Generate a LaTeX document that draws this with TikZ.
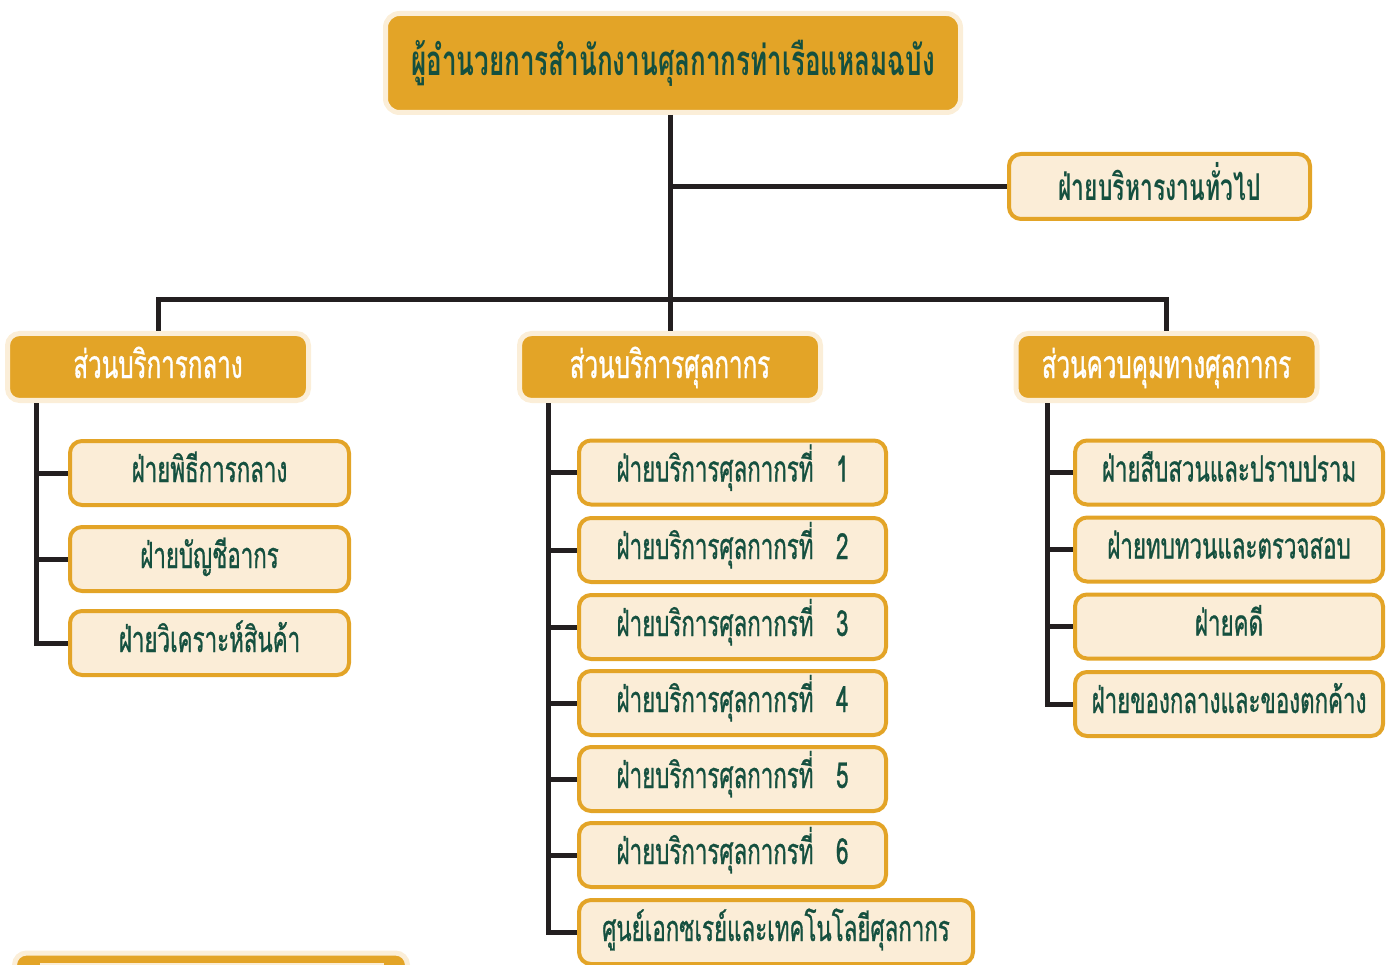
\documentclass[tikz,border=0pt]{standalone}
\usepackage{fontspec}
\newfontfamily\thai[Script=Thai,FakeStretch=0.62]{Loma}
\newfontfamily\thaim[Script=Thai,FakeStretch=0.62,FakeBold=0.8]{Loma}
\definecolor{orng}{HTML}{E3A427}
\definecolor{glow}{HTML}{FBEED8}
\definecolor{cream}{HTML}{FBEDD7}
\definecolor{dgreen}{HTML}{15503F}
\definecolor{lin}{HTML}{231F20}
\tikzset{
  topbox/.style={draw=glow, line width=5pt, fill=orng, rounded corners=14pt, inner sep=0pt,
    minimum width=575pt, minimum height=99pt, text=dgreen, font=\thai\bfseries\fontsize{42}{48}\selectfont,
    text height=26pt, text depth=0pt},
  secbox/.style={draw=glow, line width=5pt, fill=orng, rounded corners=12pt, inner sep=0pt,
    minimum width=301pt, minimum height=67pt, text=white, font=\thaim\fontsize{39}{44}\selectfont,
    text height=22pt, text depth=0pt},
  unitbox/.style={draw=orng, line width=4pt, fill=cream, rounded corners=12pt, inner sep=0pt,
    minimum height=64pt, text=dgreen, font=\thaim\fontsize{36}{40}\selectfont,
    text height=18pt, text depth=0pt},
  genbox/.style={draw=orng, line width=4pt, fill=cream, rounded corners=12pt, inner sep=0pt,
    minimum width=301pt, minimum height=65pt, text=dgreen, font=\thai\bfseries\fontsize{37}{42}\selectfont,
    text height=29pt, text depth=0pt},
  plainbox/.style={draw=glow, line width=5pt, fill=orng, rounded corners=12pt, inner sep=0pt},
  conn/.style={draw=lin, line width=5pt},
}
\begin{document}
\begin{tikzpicture}[x=1pt,y=-1pt]
\useasboundingbox (0,0) rectangle (1392,965);
\clip (0,0) rectangle (1392,965);
% top
\node[topbox] (top) at (673,63) {ผู้อำนวยการสำนักงานศุลกากรท่าเรือแหลมฉบัง};
\node[genbox] (gen) at (1159.5,186.5) {ฝ่ายบริหารงานทั่วไป};
% sections
\node[secbox] (secL) at (158,367) {ส่วนบริการกลาง};
\node[secbox] (secM) at (670,367) {ส่วนบริการศุลกากร};
\node[secbox] (secR) at (1166.5,367) {ส่วนควบคุมทางศุลกากร};
% left units
\node[unitbox, minimum width=279pt] (l1) at (209.5,473) {ฝ่ายพิธีการกลาง};
\node[unitbox, minimum width=279pt] (l2) at (209.5,559) {ฝ่ายบัญชีอากร};
\node[unitbox, minimum width=279pt] (l3) at (209.5,643) {ฝ่ายวิเคราะห์สินค้า};
% middle units
\node[unitbox, minimum width=307pt] (m1) at (732.5,472.5) {ฝ่ายบริการศุลกากรที่\ \ \ 1};
\node[unitbox, minimum width=307pt] (m2) at (732.5,550) {ฝ่ายบริการศุลกากรที่\ \ \ 2};
\node[unitbox, minimum width=307pt] (m3) at (732.5,627) {ฝ่ายบริการศุลกากรที่\ \ \ 3};
\node[unitbox, minimum width=307pt] (m4) at (732.5,703) {ฝ่ายบริการศุลกากรที่\ \ \ 4};
\node[unitbox, minimum width=307pt] (m5) at (732.5,779) {ฝ่ายบริการศุลกากรที่\ \ \ 5};
\node[unitbox, minimum width=307pt] (m6) at (732.5,855) {ฝ่ายบริการศุลกากรที่\ \ \ 6};
\node[unitbox, minimum width=394pt] (m7) at (776,932) {ศูนย์เอกซเรย์และเทคโนโลยีศุลกากร};
% right units
\node[unitbox, minimum width=308pt] (r1) at (1229,472.5) {ฝ่ายสืบสวนและปราบปราม};
\node[unitbox, minimum width=308pt] (r2) at (1229,549.5) {ฝ่ายทบทวนและตรวจสอบ};
\node[unitbox, minimum width=308pt] (r3) at (1229,626.5) {ฝ่ายคดี};
\node[unitbox, minimum width=308pt] (r4) at (1229,704) {ฝ่ายของกลางและของตกค้าง};
% bottom partial box
\node[plainbox, minimum width=393pt, minimum height=70pt, anchor=north] (bot) at (211,950.5) {};
\fill[cream] (40,963) rectangle (384,1000);
% connectors
\coordinate (bus) at (670,300);
\draw[conn] (top.south -| secM.north) -- (secM.north);
\draw[conn] (gen.west -| secM.north) -- (gen.west);
\draw[conn] (secL.north) -- (secL.north |- bus) -- (secR.north |- bus) -- (secR.north);
\coordinate (lx) at (36,0);
\coordinate (mx) at (548,0);
\coordinate (rx) at (1047,0);
\draw[conn] (secL.south -| lx) |- (l3.west);
\draw[conn] (l1.west -| lx) -- (l1.west);
\draw[conn] (l2.west -| lx) -- (l2.west);
\draw[conn] (secM.south -| mx) |- (m7.west);
\foreach \n in {m1,m2,m3,m4,m5,m6} \draw[conn] (\n.west -| mx) -- (\n.west);
\draw[conn] (secR.south -| rx) |- (r4.west);
\foreach \n in {r1,r2,r3} \draw[conn] (\n.west -| rx) -- (\n.west);
\end{tikzpicture}
\end{document}
